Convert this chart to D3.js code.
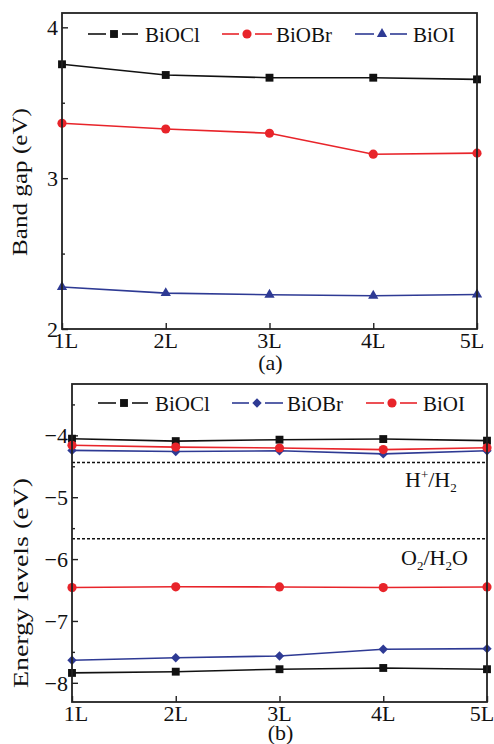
<!DOCTYPE html>
<html>
<head>
<meta charset="utf-8">
<script src="https://cdn.jsdelivr.net/npm/d3@7"></script>
<style>
  body { margin: 0; background: #fff; }
</style>
</head>
<body>
<div id="chart"></div>
<script>
// layer counts on the x axis
var layers = ["1L", "2L", "3L", "4L", "5L"];

// (a) band gaps, eV
var gapBiOCl = [3.755, 3.684, 3.666, 3.666, 3.655];
var gapBiOBr = [3.364, 3.326, 3.298, 3.159, 3.166];
var gapBiOI  = [2.278, 2.238, 2.227, 2.220, 2.229];

// (b) band edges, eV (upper = CB, lower = VB)
var cbBiOCl = [-4.054, -4.093, -4.070, -4.060, -4.086];
var cbBiOBr = [-4.243, -4.260, -4.250, -4.300, -4.250];
var cbBiOI  = [-4.160, -4.190, -4.205, -4.230, -4.200];
var vbBiOCl = [-7.840, -7.820, -7.780, -7.760, -7.780];
var vbBiOBr = [-7.636, -7.594, -7.566, -7.458, -7.448];
var vbBiOI  = [-6.460, -6.448, -6.450, -6.460, -6.450];

// redox levels
var redoxLevels = [-4.44, -5.67];

var black = "#111", red = "#e8242a", blue = "#2e3a94";
var serif = "'Liberation Serif', Tinos, 'Times New Roman', Times, 'Nimbus Roman', serif";

var svg = d3.select("#chart").append("svg")
    .attr("width", 494)
    .attr("height", 744)
    .attr("font-family", serif)
    .style("font-family", serif);

function marker(type) {
  if (type == "square") return d3.symbol().type(d3.symbolSquare).size(62)();
  if (type == "circle") return d3.symbol().type(d3.symbolCircle).size(66)();
  if (type == "triangle") return d3.symbol().type(d3.symbolTriangle).size(46)();
  return d3.symbol().type(d3.symbolSquare).size(44)();   // diamond = rotated square
}

function txt(sel, size) {
  return sel.style("font-family", serif).style("font-size", size + "px").attr("fill", "#111");
}

function drawPanel(p) {
  var x = d3.scalePoint().domain(layers).range([p.left, p.right]);
  var y = d3.scaleLinear().domain(p.domain).range([p.bottom, p.top]);
  var g = svg.append("g");

  // y ticks (inward), majors and minors
  g.append("g")
    .attr("transform", `translate(${p.left},0)`)
    .call(d3.axisRight(y).tickValues(p.major).tickSize(6).tickFormat(""))
    .call(a => a.select(".domain").remove());
  g.append("g")
    .attr("transform", `translate(${p.left},0)`)
    .call(d3.axisRight(y).tickValues(p.minor).tickSize(3).tickFormat(""))
    .call(a => a.select(".domain").remove());
  g.selectAll(".tick line").attr("stroke", "#222").attr("stroke-width", 1.4);

  txt(g.selectAll(".ylab")
    .data(p.major)
    .enter().append("text")
    .attr("x", p.left - 4)
    .attr("y", d => y(d))
    .attr("dy", "0.36em")
    .attr("text-anchor", "end"), 22)
    .text(d => d < 0 ? "\u2212" + Math.abs(d) : d);

  // x ticks (inward)
  g.append("g")
    .attr("transform", `translate(0,${p.bottom})`)
    .call(d3.axisTop(x).tickSize(6).tickFormat(""))
    .call(a => a.select(".domain").remove())
    .selectAll(".tick line").attr("stroke", "#222").attr("stroke-width", 1.4);

  // end labels sit a little inside the frame corners
  var nudge = {"1L": 4, "5L": -5};
  txt(g.selectAll(".xlab")
    .data(layers)
    .enter().append("text")
    .attr("x", d => x(d) + (nudge[d] || 0))
    .attr("y", p.xlabY)
    .attr("text-anchor", "middle"), 22)
    .text(d => d);

  txt(g.append("text")
    .attr("x", (p.left + p.right) / 2 + 1)
    .attr("y", p.tagY)
    .attr("text-anchor", "middle"), 22)
    .text(p.tag);

  txt(g.append("text")
    .attr("transform", `translate(${p.ylabX},${p.ylabC}) rotate(-90)`)
    .attr("text-anchor", "middle")
    .attr("textLength", p.ylabLen)
    .attr("lengthAdjust", "spacingAndGlyphs"), 22)
    .text(p.ylabel);

  if (p.extra) p.extra(g, x, y);

  var line = d3.line().x((d, i) => x(layers[i])).y(d => y(d));

  p.series.forEach(s => {
    g.append("path")
      .datum(s.values)
      .attr("fill", "none")
      .attr("stroke", s.color)
      .attr("stroke-width", 1.6)
      .attr("d", line);
    g.selectAll(null)
      .data(s.values)
      .enter().append("path")
      .attr("d", marker(s.shape))
      .attr("fill", s.color)
      .attr("transform", (d, i) => `translate(${x(layers[i])},${y(d)})` + (s.shape == "diamond" ? " rotate(45)" : ""));
  });

  // legend
  p.legend.forEach(l => {
    var s = p.series.find(d => d.name == l.name);
    var lg = g.append("g");
    lg.append("line").attr("x1", l.x1).attr("x2", l.mx - 8).attr("y1", p.legY).attr("y2", p.legY)
      .attr("stroke", s.color).attr("stroke-width", 1.6);
    lg.append("line").attr("x1", l.mx + 8).attr("x2", l.x2).attr("y1", p.legY).attr("y2", p.legY)
      .attr("stroke", s.color).attr("stroke-width", 1.6);
    lg.append("path").attr("d", marker(s.shape)).attr("fill", s.color)
      .attr("transform", `translate(${l.mx},${p.legY})` + (s.shape == "diamond" ? " rotate(45)" : ""));
    txt(lg.append("text").attr("x", l.tx).attr("y", p.legY).attr("dy", "0.36em"), 21).text(s.name);
  });

  // frame
  g.append("rect")
    .attr("x", p.left).attr("y", p.top)
    .attr("width", p.right - p.left).attr("height", p.bottom - p.top)
    .attr("fill", "none").attr("stroke", "#222").attr("stroke-width", 1.8);
}

drawPanel({
  left: 62, right: 477, top: 13, bottom: 329,
  domain: [2, 4.095],
  major: [2, 3, 4], minor: [2.5, 3.5],
  xlabY: 348, tag: "(a)", tagY: 370,
  ylabel: "Band gap (eV)", ylabX: 27, ylabC: 182, ylabLen: 148,
  legY: 34,
  series: [
    {name: "BiOCl", values: gapBiOCl, color: black, shape: "square"},
    {name: "BiOBr", values: gapBiOBr, color: red, shape: "circle"},
    {name: "BiOI", values: gapBiOI, color: blue, shape: "triangle"}
  ],
  legend: [
    {name: "BiOCl", x1: 88, mx: 114, x2: 138, tx: 145},
    {name: "BiOBr", x1: 222, mx: 247, x2: 272, tx: 276},
    {name: "BiOI", x1: 355, mx: 382, x2: 407, tx: 413}
  ]
});

drawPanel({
  left: 72, right: 487, top: 384, bottom: 702,
  domain: [-8.31, -3.17],
  major: [-8, -7, -6, -5, -4], minor: [-7.5, -6.5, -5.5, -4.5, -3.5],
  xlabY: 721, tag: "(b)", tagY: 740,
  ylabel: "Energy levels (eV)", ylabX: 28, ylabC: 583, ylabLen: 210,
  legY: 403,
  series: [
    {name: "BiOCl", values: cbBiOCl, color: black, shape: "square"},
    {name: "BiOBr", values: cbBiOBr, color: blue, shape: "diamond"},
    {name: "BiOI", values: cbBiOI, color: red, shape: "circle"},
    {name: "BiOCl", values: vbBiOCl, color: black, shape: "square"},
    {name: "BiOBr", values: vbBiOBr, color: blue, shape: "diamond"},
    {name: "BiOI", values: vbBiOI, color: red, shape: "circle"}
  ],
  legend: [
    {name: "BiOCl", x1: 98, mx: 124, x2: 148, tx: 155},
    {name: "BiOBr", x1: 232, mx: 257, x2: 283, tx: 287},
    {name: "BiOI", x1: 366, mx: 392, x2: 417, tx: 423}
  ],
  extra: function(g, x, y) {
    g.selectAll(".redox")
      .data(redoxLevels)
      .enter().append("line")
      .attr("x1", 72).attr("x2", 487)
      .attr("y1", d => y(d)).attr("y2", d => y(d))
      .attr("stroke", "#111").attr("stroke-width", 1.5)
      .attr("stroke-dasharray", "3,2");

    var h = txt(g.append("text").attr("x", 405).attr("y", 487), 22);
    h.append("tspan").text("H");
    h.append("tspan").attr("dy", -8).style("font-size", "13px").text("+");
    h.append("tspan").attr("dy", 8).text("/H");
    h.append("tspan").attr("dy", 5).style("font-size", "13px").text("2");

    var o = txt(g.append("text").attr("x", 401).attr("y", 565), 22);
    o.append("tspan").text("O");
    o.append("tspan").attr("dy", 5).style("font-size", "13px").text("2");
    o.append("tspan").attr("dy", -5).text("/H");
    o.append("tspan").attr("dy", 5).style("font-size", "13px").text("2");
    o.append("tspan").attr("dy", -5).text("O");
  }
});
</script>
</body>
</html>
